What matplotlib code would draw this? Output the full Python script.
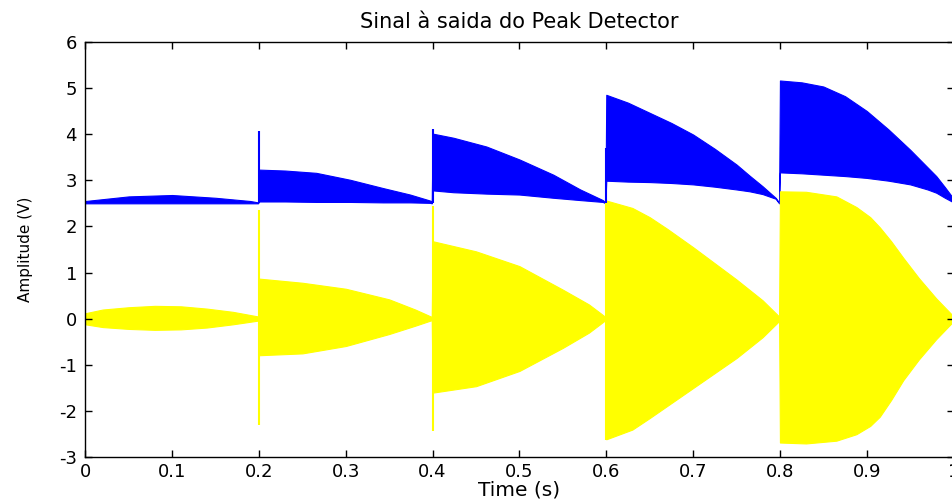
import matplotlib
matplotlib.use("Agg")
import matplotlib.pyplot as plt

# input signal (yellow) - envelope
t_in = [0, 0.02, 0.05, 0.08, 0.11, 0.14, 0.17, 0.199,
        0.2, 0.25, 0.3, 0.35, 0.38, 0.399,
        0.4, 0.45, 0.5, 0.55, 0.58, 0.599,
        0.6, 0.63, 0.65, 0.67, 0.7, 0.75, 0.78, 0.799,
        0.8, 0.83, 0.865, 0.888, 0.904, 0.915, 0.928, 0.942, 0.96, 0.98, 1.0]
in_hi = [0.12, 0.2, 0.25, 0.28, 0.27, 0.22, 0.15, 0.05,
         0.87, 0.78, 0.65, 0.42, 0.2, 0.04,
         1.68, 1.46, 1.14, 0.63, 0.31, 0.04,
         2.56, 2.4, 2.2, 1.95, 1.55, 0.85, 0.4, 0.05,
         2.76, 2.75, 2.65, 2.42, 2.2, 1.98, 1.68, 1.32, 0.88, 0.44, 0.05]
in_lo = [-0.12, -0.18, -0.22, -0.24, -0.23, -0.19, -0.12, -0.04,
         -0.79, -0.75, -0.59, -0.33, -0.15, -0.03,
         -1.60, -1.46, -1.13, -0.63, -0.30, -0.03,
         -2.61, -2.4, -2.15, -1.89, -1.5, -0.85, -0.4, -0.05,
         -2.68, -2.7, -2.64, -2.5, -2.32, -2.12, -1.76, -1.33, -0.88, -0.44, -0.05]

# peak detector output (blue)
t_out = [0, 0.05, 0.1, 0.15, 0.19, 0.199,
         0.2, 0.23, 0.266, 0.305, 0.343, 0.374, 0.397, 0.399,
         0.4, 0.424, 0.462, 0.5, 0.539, 0.57, 0.596, 0.599,
         0.6, 0.625, 0.65, 0.675, 0.7, 0.725, 0.75, 0.765, 0.78, 0.795, 0.799,
         0.8, 0.825, 0.85, 0.875, 0.9, 0.925, 0.95, 0.97, 0.98, 0.99, 1.0]
out_hi = [2.55, 2.65, 2.68, 2.62, 2.55, 2.52,
          3.23, 3.21, 3.16, 3.01, 2.83, 2.69, 2.56, 2.52,
          4.01, 3.92, 3.73, 3.45, 3.12, 2.80, 2.57, 2.52,
          4.85, 4.68, 4.46, 4.24, 3.99, 3.68, 3.34, 3.1, 2.87, 2.62, 2.52,
          5.16, 5.12, 5.03, 4.82, 4.50, 4.10, 3.66, 3.28, 3.09, 2.85, 2.6]
out_lo = [2.5, 2.5, 2.5, 2.5, 2.5, 2.5,
          2.54, 2.54, 2.53, 2.53, 2.52, 2.52, 2.51, 2.5,
          2.78, 2.74, 2.71, 2.69, 2.62, 2.57, 2.53, 2.5,
          2.99, 2.97, 2.96, 2.94, 2.91, 2.86, 2.80, 2.76, 2.70, 2.6, 2.5,
          3.17, 3.15, 3.12, 3.09, 3.05, 2.99, 2.91, 2.8, 2.73, 2.62, 2.52]

# switching spikes
spike_in_t = [0.2, 0.4, 0.6]
spike_in_hi = [2.36, 2.45, 2.6]
spike_in_lo = [-2.3, -2.44, -2.62]
spike_out_t = [0.2, 0.4, 0.6, 1.0]
spike_out_hi = [4.06, 4.1, 3.7, 4.27]
spike_out_lo = [2.5, 2.5, 2.5, 2.5]

xtick_vals = [0, 0.1, 0.2, 0.3, 0.4, 0.5, 0.6, 0.7, 0.8, 0.9, 1]
xtick_labels = ["0", "0.1", "0.2", "0.3", "0.4", "0.5", "0.6", "0.7", "0.8", "0.9", "1"]
ytick_vals = [-3, -2, -1, 0, 1, 2, 3, 4, 5, 6]

plt.rcParams['font.family'] = ['DejaVu Sans']
plt.rcParams['axes.unicode_minus'] = False

fig = plt.figure(figsize=(9.52, 5.01), dpi=100)
ax = fig.add_axes([85.3 / 952, (501 - 457.3) / 501, (953.6 - 85.3) / 952, (457.3 - 41.7) / 501])

yellow = (1, 1, 0)
blue = (0, 0, 1)
ax.fill_between(t_out, out_lo, out_hi, color=blue, linewidth=0.8, edgecolor=blue)
ax.fill_between(t_in, in_lo, in_hi, color=yellow, linewidth=0.8, edgecolor=yellow)
ax.vlines(spike_in_t, spike_in_lo, spike_in_hi, color=yellow, linewidth=1.5)
ax.vlines(spike_out_t, spike_out_lo, spike_out_hi, color=blue, linewidth=1.5)

ax.set_xlim(0, 1)
ax.set_ylim(-3, 6)
ax.set_xticks(xtick_vals)
ax.set_xticklabels(xtick_labels)
ax.set_yticks(ytick_vals)
ax.tick_params(direction='in', top=True, right=True, length=5, width=1,
               labelsize=13, colors='black')
ax.tick_params(axis='x', pad=4)
ax.tick_params(axis='y', pad=6)
for s in ax.spines.values():
    s.set_linewidth(1)

ax.set_title("Sinal à saida do Peak Detector", fontsize=15, pad=10)
ax.set_xlabel("Time (s)", fontsize=14.5)
ax.xaxis.set_label_coords(0.5, -0.055)
ax.set_ylabel("Amplitude (V)", fontsize=11)
ax.yaxis.set_label_coords(-0.060, 0.5)

fig.savefig("out.png", dpi=100)
